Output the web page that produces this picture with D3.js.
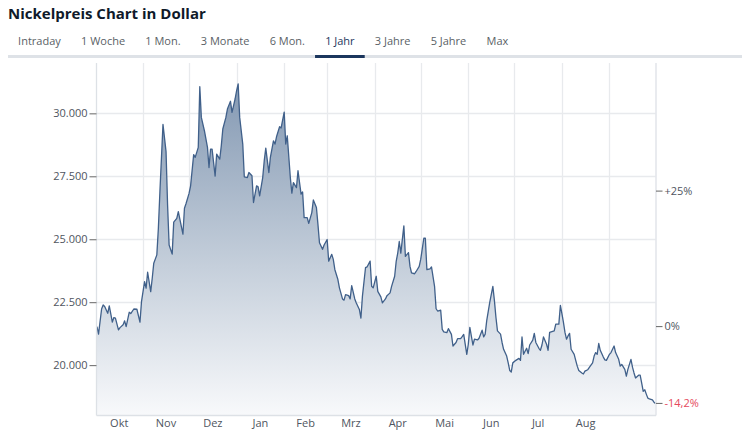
<!DOCTYPE html>
<html><head><meta charset="utf-8">
<script src="https://cdn.jsdelivr.net/npm/d3@7"></script>
<style>
html,body{margin:0;padding:0;background:#fff;}
svg{display:block;font-family:"Open Sans",sans-serif;}
</style></head>
<body>
<svg id="chart" width="750" height="441"></svg>
<script>
// ---- data ----
const titleText = "Nickelpreis Chart in Dollar";
const tabs = ["Intraday","1 Woche","1 Mon.","3 Monate","6 Mon.","1 Jahr","3 Jahre","5 Jahre","Max"];
const activeTab = "1 Jahr";
const startDate = new Date(2022, 9, 2);
const dayOffsets = [0,1,3,4,5,7,8,10,11,12,14,15,17,18,19,21,22,24,26,28,29,31,32,33,35,36,37,39,40,41,43,45,46,47,49,50,52,53,55,56,57,58,60,61,63,64,66,67,68,70,72,73,74,75,77,78,80,81,82,84,85,87,88,90,91,92,93,95,96,98,99,101,102,104,105,106,108,109,110,112,113,115,116,117,119,120,122,123,124,126,127,128,130,131,133,134,135,137,138,140,141,143,144,145,147,148,150,151,153,154,155,157,158,160,161,162,164,165,166,168,169,171,172,173,175,176,178,179,180,182,183,185,186,188,189,191,192,194,195,196,197,198,200,201,203,204,205,207,208,210,211,213,214,215,217,218,220,221,222,224,225,226,228,229,231,232,234,235,237,238,239,241,242,243,245,246,248,249,251,252,253,254,256,258,259,260,261,263,264,265,267,268,269,270,271,273,275,276,277,278,280,281,282,284,285,286,288,289,290,291,293,294,295,297,298,299,301,302,303,304,305,306,307,308,309,311,312,313,314,316,317,318,319,320,321,323,324,325,326,327,328,330,331,332,334,335,336,337,338,340,341,342,344,345,346,348,349,350,351,353,354,355,356,357,358,359,360,362,363,364];
const prices = [21530,21230,22230,22390,22330,22060,22350,21710,21890,21870,21400,21490,21600,21760,21530,22100,22050,22230,22220,21710,22520,23320,23060,23690,22920,23450,24050,24380,25440,26890,29560,28480,26360,24770,24410,25680,25830,26100,25500,25200,26230,26410,26820,27120,28360,28250,28650,31060,29840,29310,28650,27850,28580,28580,27510,28380,28180,28710,29380,29840,30170,30480,30040,30570,30900,31170,29840,28780,27480,27450,27650,27520,26460,27120,27080,26720,27450,28120,28620,27650,28250,28910,28780,29070,29470,29420,30050,28780,29110,27450,26830,27250,27050,27720,26790,26880,25860,25860,25630,26060,26560,26260,25590,24860,24600,24770,24990,24130,24400,24200,23800,23400,23070,22630,22580,22800,22760,22630,23160,22630,22470,22210,21870,22740,23870,23900,24130,23130,23070,23530,22930,22710,22470,22630,22760,22870,23130,23530,24120,24450,24910,24450,25530,24320,24470,23920,23660,23630,23720,23920,24210,25040,25040,23790,23820,23900,23130,22240,22150,22180,21420,21320,21290,21450,21220,20760,20900,21050,21050,21130,21220,20430,20830,21500,20800,21030,21000,21070,21390,21120,21230,21770,22500,23130,22570,21900,21360,21230,20900,20630,20360,20090,19790,19730,20090,20190,20270,20190,21120,20430,20670,20460,20800,20990,21260,20900,20670,20590,20800,21120,20830,20590,21300,21340,21360,21630,21630,22370,22050,21700,21300,21030,21160,21260,20630,20430,20190,19960,19790,19690,19650,19760,19790,19830,19920,20090,20360,20500,20430,20860,20590,20320,20210,20190,20430,20500,20630,20760,20500,20230,19960,20030,19830,19560,19830,20230,19920,19690,19490,19600,19600,19290,18960,19020,18850,18690,18660,18620,18530,18480];
const monthLabels = ["Okt","Nov","Dez","Jan","Feb","Mrz","Apr","Mai","Jun","Jul","Aug"];
const yTicks = [20000,22500,25000,27500,30000];
const pctTicks = [0.25, 0];

// ---- layout ----
const svg = d3.select("#chart");
const L = 96.5, R = 655.5, T = 63, B = 415.5;
const de = d3.formatLocale({decimal:",", thousands:".", grouping:[3], currency:["","$"]});
const fmtNum = de.format(",.0f");
const fmtPct1 = de.format("+.1f");

const data = dayOffsets.map((d,i)=>({date:d3.timeDay.offset(startDate,d), v:prices[i]}));
const x = d3.scaleTime().domain(d3.extent(data,d=>d.date)).range([L+0.5, R]);
const y = d3.scaleLinear().domain([18000,32000]).range([B,T]);

// title
svg.append("text").attr("x",8).attr("y",19).attr("font-size",15).attr("font-weight",700)
  .attr("fill","#0f1a2a").text(titleText);

// tabs
svg.append("rect").attr("x",8).attr("y",55).attr("width",734).attr("height",3).attr("fill","#dee2e7");
const tabG = svg.append("g");
let tx = 8;
tabs.forEach(t=>{
  const active = t===activeTab;
  const el = tabG.append("text").attr("y",45).attr("font-size",11)
    .attr("fill", active ? "#1b365d" : "#5a5f66").text(t);
  const w = el.node().getComputedTextLength();
  const pad = 10.1;
  el.attr("x", tx+pad);
  if(active){
    tabG.append("rect").attr("x",tx).attr("y",55).attr("width",w+2*pad).attr("height",3).attr("fill","#1b365d");
  }
  tx += w + 2*pad;
});

// grid
const monthStarts = d3.timeMonth.range(new Date(2022,9,1), new Date(2023,9,2));
const gridG = svg.append("g");
monthStarts.forEach(m=>{
  const px = Math.round(x(m))+0.5;
  if(px> L+2 && px < R-2)
    gridG.append("line").attr("x1",px).attr("x2",px).attr("y1",T).attr("y2",B).attr("stroke","#e8eaed").attr("stroke-width",1.3);
});
yTicks.forEach(v=>{
  const py = Math.round(y(v))+0.5;
  gridG.append("line").attr("x1",L).attr("x2",R).attr("y1",py).attr("y2",py).attr("stroke","#e8eaed").attr("stroke-width",1.3);
});

// gradient
const defs = svg.append("defs");
const grad = defs.append("linearGradient").attr("id","fillGrad").attr("gradientUnits","userSpaceOnUse")
  .attr("x1",0).attr("x2",0).attr("y1",y(d3.max(prices))).attr("y2",B);
grad.append("stop").attr("offset",0).attr("stop-color","#8499b3");
grad.append("stop").attr("offset",0.55).attr("stop-color","#c5cfdb");
grad.append("stop").attr("offset",1).attr("stop-color","#f8f9fb");

const area = d3.area().x(d=>x(d.date)).y0(B).y1(d=>y(d.v));
const line = d3.line().x(d=>x(d.date)).y(d=>y(d.v));
svg.append("path").datum(data).attr("d",area).attr("fill","url(#fillGrad)");
svg.append("path").datum(data).attr("d",line).attr("fill","none").attr("stroke","#40608a").attr("stroke-width",1.3).attr("stroke-linejoin","round");

// frame
svg.append("line").attr("x1",L).attr("x2",L).attr("y1",T).attr("y2",B).attr("stroke","#dde1e6").attr("stroke-width",1.3);
svg.append("line").attr("x1",R+0.5).attr("x2",R+0.5).attr("y1",T).attr("y2",B).attr("stroke","#dde1e6").attr("stroke-width",1.3);
svg.append("line").attr("x1",L).attr("x2",R+0.5).attr("y1",B).attr("y2",B).attr("stroke","#dde1e6").attr("stroke-width",1.3);

// left axis
const yAxis = d3.axisLeft(y).tickValues(yTicks).tickFormat(fmtNum).tickSize(7).tickPadding(2);
const yg = svg.append("g").attr("transform",`translate(${L},0)`).call(yAxis);
yg.select(".domain").remove();
yg.selectAll("line").attr("stroke","#666");
yg.selectAll("text").attr("fill","#4f5560").attr("font-size",11).attr("font-family","Open Sans");

// right axis (percent relative to first value)
const base = prices[0];
const last = prices[prices.length-1];
const lastPct = (last/base - 1)*100;
const rightTicks = pctTicks.map(p=>({v:base*(1+p), label:(p>0?"+":"")+de.format(".0f")(p*100)+"%", color:"#4f5560"}));
rightTicks.push({v:last, label:fmtPct1(lastPct).replace("\u2212","-")+"%", color:"#e5485c"});
const rg = svg.append("g");
rightTicks.forEach(t=>{
  const py = y(t.v);
  rg.append("line").attr("x1",R+0.5).attr("x2",R+7).attr("y1",py).attr("y2",py).attr("stroke","#666");
  rg.append("text").attr("x",R+9).attr("y",py).attr("dy","0.35em").attr("font-size",11)
    .attr("fill",t.color).text(t.label);
});

// month labels
const xg = svg.append("g");
monthLabels.forEach((lab,i)=>{
  const a = x(monthStarts[i]), b = x(monthStarts[i+1]);
  xg.append("text").attr("x",(a+b)/2).attr("y",427).attr("text-anchor","middle").attr("font-size",11)
    .attr("fill","#4f5560").text(lab);
});
</script>
</body></html>
